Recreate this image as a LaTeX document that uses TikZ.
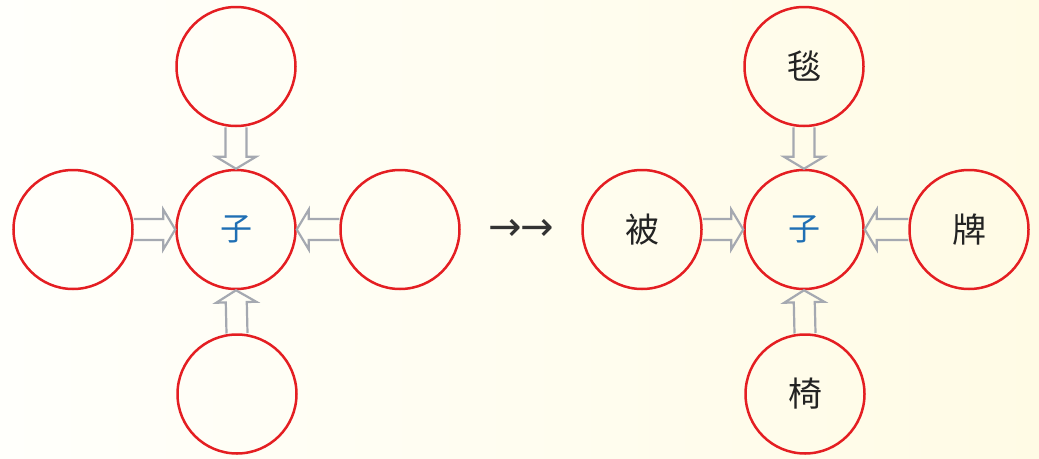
\documentclass[tikz,border=0pt]{standalone}
\usepackage{fontspec}
\newfontfamily\cjk{Noto Sans CJK SC}
\newfontfamily\arrowfont{DejaVu Sans}
\usetikzlibrary{calc}
\definecolor{ringred}{RGB}{228,30,34}
\definecolor{arrgray}{RGB}{165,169,177}
\definecolor{ziblue}{RGB}{31,111,180}
\definecolor{inkblack}{RGB}{35,35,35}
\definecolor{bgleft}{RGB}{255,255,251}
\definecolor{bgright}{RGB}{255,251,229}
\tikzset{
  ring/.style={circle, draw=ringred, line width=2.5pt, minimum size=119pt, inner sep=0pt,
               font=\cjk\fontsize{34}{34}\selectfont, text=inkblack},
  hollowarr/.style={draw=arrgray, line width=2.2pt, line join=miter},
  arrowtext/.style={font=\arrowfont\fontsize{40}{40}\selectfont, text=black!80, inner sep=0pt}
}
\newcommand{\hollowarrow}[2]{%
  \draw[hollowarr] let \p1=($(#2)-(#1)$), \n1={atan2(\y1,\x1)}, \n2={veclen(\x1,\y1)} in
    ($(#1)+({\n1+90}:10.5pt)$)
    -- ($(#1)+(\n1:{\n2-12pt})+({\n1+90}:10.5pt)$)
    -- ($(#1)+(\n1:{\n2-12pt})+({\n1+90}:20pt)$)
    -- (#2)
    -- ($(#1)+(\n1:{\n2-12pt})+({\n1-90}:20pt)$)
    -- ($(#1)+(\n1:{\n2-12pt})+({\n1-90}:10.5pt)$)
    -- ($(#1)+({\n1-90}:10.5pt)$);
}
\begin{document}
\begin{tikzpicture}[x=1pt, y=-1pt]
  \useasboundingbox (0,0) rectangle (1039,458);
  \shade[left color=bgleft, right color=bgright] (0,0) rectangle (1039,458);

  % left group
  \node[ring] (lc) at (236,229.5) {\textcolor{ziblue}{\fontsize{32}{32}\selectfont 子}};
  \node[ring] (lt) at (236,66.5) {};
  \node[ring] (ll) at (73,229.5) {};
  \node[ring] (lr) at (400,229.5) {};
  \node[ring] (lb) at (237,394) {};

  \hollowarrow{lt.south}{lc.north}
  \hollowarrow{ll.east}{lc.west}
  \hollowarrow{lr.west}{lc.east}
  \hollowarrow{lb.north}{lc.south}

  % middle
  \node[arrowtext] (mid) at (521,230) {→\kern-2pt→};

  % right group
  \node[ring] (rc) at (804,229.5) {\textcolor{ziblue}{\fontsize{32}{32}\selectfont 子}};
  \node[ring] (rt) at (804,66.5) {毯};
  \node[ring] (rl) at (642,229.5) {被};
  \node[ring] (rr) at (969,229.5) {牌};
  \node[ring] (rb) at (805,394) {椅};

  \hollowarrow{rt.south}{rc.north}
  \hollowarrow{rl.east}{rc.west}
  \hollowarrow{rr.west}{rc.east}
  \hollowarrow{rb.north}{rc.south}
\end{tikzpicture}
\end{document}
